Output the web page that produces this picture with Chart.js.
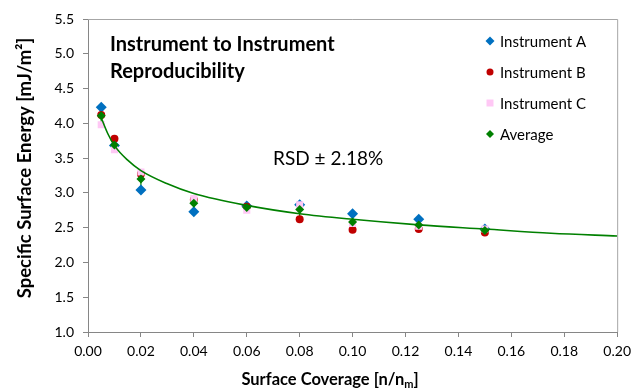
<!DOCTYPE html>
<html>
<head>
<meta charset="utf-8">
<script src="https://cdn.jsdelivr.net/npm/chart.js@4.4.0/dist/chart.umd.min.js"></script>
<style>
    body { margin: 0; background: #fff; }
</style>
</head>
<body>
<canvas id="myChart" width="637" height="390"></canvas>
<script>
// surface coverage [n/nm] where each instrument was measured
const coverage = [0.005, 0.01, 0.02, 0.04, 0.06, 0.08, 0.10, 0.125, 0.15];
const instrumentA = [4.23, 3.68, 3.04, 2.73, 2.81, 2.83, 2.70, 2.62, 2.48];
const instrumentB = [4.12, 3.78, 3.27, 2.90, 2.80, 2.62, 2.47, 2.48, 2.43];
const instrumentC = [3.98, 3.62, 3.30, 2.92, 2.75, 2.83, 2.56, 2.52, 2.48];
const average = [4.11, 3.69, 3.20, 2.85, 2.79, 2.76, 2.58, 2.54, 2.46];
const averageErr = [0.12, 0.08, 0.14, 0.10, 0.03, 0.12, 0.12, 0.07, 0.03];

// power trend line
const trendX = [0.005, 0.0075, 0.01, 0.015, 0.02, 0.03, 0.04, 0.06, 0.08, 0.10, 0.125, 0.15, 0.175, 0.20];
const trendY = [4.08, 3.85, 3.68, 3.47, 3.32, 3.13, 2.99, 2.82, 2.70, 2.62, 2.54, 2.48, 2.42, 2.38];

const xRange = [0, 0.2, 0.02];
const yRange = [1, 5.5, 0.5];

const FONT = 'Lato, "Open Sans", sans-serif';

const toPoints = (xs, ys) => xs.map((x, i) => ({ x: x, y: ys[i] }));

const legendItems = [
    { label: 'Instrument A', style: 'rectRot', color: '#0070C0', r: 4.5 },
    { label: 'Instrument B', style: 'circle', color: '#C00000', r: 3.5 },
    { label: 'Instrument C', style: 'rect', color: '#FFC8F5', r: 3.5 },
    { label: 'Average', style: 'rectRot', color: '#008000', r: 4 },
];

const drawMarker = (ctx, style, x, y, r, color) => {
    ctx.save();
    ctx.fillStyle = color;
    ctx.beginPath();
    if (style === 'circle') {
        ctx.arc(x, y, r, 0, Math.PI * 2);
    } else if (style === 'rect') {
        ctx.rect(x - r, y - r, r * 2, r * 2);
    } else {
        ctx.moveTo(x, y - r);
        ctx.lineTo(x + r, y);
        ctx.lineTo(x, y + r);
        ctx.lineTo(x - r, y);
        ctx.closePath();
    }
    ctx.fill();
    ctx.restore();
};

const decorPlugin = {
    id: 'decor',
    beforeDatasetsDraw(chart) {
        const ctx = chart.ctx;
        const xs = chart.scales.x;
        const ys = chart.scales.y;
        const area = chart.chartArea;

        // plot area box (top and right sides)
        ctx.save();
        ctx.strokeStyle = '#A6A6A6';
        ctx.lineWidth = 1;
        ctx.beginPath();
        ctx.moveTo(area.left, area.top + 0.5);
        ctx.lineTo(area.right + 0.5, area.top + 0.5);
        ctx.lineTo(area.right + 0.5, area.bottom);
        ctx.stroke();

        // error bars on the average
        ctx.strokeStyle = '#008000';
        ctx.lineWidth = 1.2;
        coverage.forEach((c, i) => {
            const px = xs.getPixelForValue(c);
            ctx.beginPath();
            ctx.moveTo(px, ys.getPixelForValue(average[i] + averageErr[i]));
            ctx.lineTo(px, ys.getPixelForValue(average[i] - averageErr[i]));
            ctx.stroke();
        });
        ctx.restore();
    },
    afterDraw(chart) {
        const ctx = chart.ctx;
        ctx.save();
        ctx.fillStyle = '#000';
        ctx.textBaseline = 'alphabetic';

        // title inside plot
        ctx.font = 'bold 20px ' + FONT;
        ctx.textAlign = 'left';
        ctx.fillText('Instrument to Instrument', 110, 51);
        ctx.fillText('Reproducibility', 110, 78);

        ctx.font = '19px ' + FONT;
        ctx.fillText('RSD \u00B1 2.18%', 273, 165);

        // legend
        ctx.font = '15px ' + FONT;
        ctx.textBaseline = 'middle';
        legendItems.forEach((item, i) => {
            const y = 41 + i * 31;
            drawMarker(ctx, item.style, 490, y, item.r, item.color);
            ctx.fillStyle = '#000';
            ctx.fillText(item.label, 500, y + 1);
        });

        // y axis title
        ctx.font = 'bold 18.5px ' + FONT;
        ctx.textAlign = 'center';
        ctx.textBaseline = 'middle';
        ctx.save();
        ctx.translate(25, 168);
        ctx.rotate(-Math.PI / 2);
        ctx.fillText('Specific Surface Energy [mJ/m\u00B2]', 0, 0);
        ctx.restore();

        // x axis title with subscript m
        ctx.textBaseline = 'alphabetic';
        ctx.textAlign = 'left';
        ctx.font = 'bold 16.5px ' + FONT;
        const main = 'Surface Coverage [n/n';
        const mainW = ctx.measureText(main).width;
        ctx.font = 'bold 11px ' + FONT;
        const subW = ctx.measureText('m').width;
        ctx.font = 'bold 16.5px ' + FONT;
        const endW = ctx.measureText(']').width;
        const startX = 330 - (mainW + subW + endW) / 2;
        const baseY = 385;
        ctx.fillText(main, startX, baseY);
        ctx.font = 'bold 11px ' + FONT;
        ctx.fillText('m', startX + mainW, baseY + 3);
        ctx.font = 'bold 16.5px ' + FONT;
        ctx.fillText(']', startX + mainW + subW, baseY);
        ctx.restore();
    },
};

const createChart = () => {
    const ctx = document.getElementById('myChart').getContext('2d');
    const pointSet = (label, values, style, color, radius, order) => ({
        label: label,
        data: toPoints(coverage, values),
        showLine: false,
        pointStyle: style,
        pointRadius: radius,
        pointBackgroundColor: color,
        pointBorderColor: color,
        pointBorderWidth: 0,
        order: order,
    });

    new Chart(ctx, {
        type: 'scatter',
        data: {
            datasets: [
                pointSet('Average', average, 'rectRot', '#008000', 4.5, 1),
                pointSet('Instrument C', instrumentC, 'rect', '#FFC8F5', 5, 2),
                pointSet('Instrument B', instrumentB, 'circle', '#C00000', 4, 3),
                pointSet('Instrument A', instrumentA, 'rectRot', '#0070C0', 5.5, 4),
                {
                    label: 'Power trend',
                    data: toPoints(trendX, trendY),
                    showLine: true,
                    borderColor: '#008000',
                    borderWidth: 1.6,
                    pointRadius: 0,
                    cubicInterpolationMode: 'monotone',
                    order: 0,
                },
            ],
        },
        options: {
            responsive: false,
            animation: false,
            events: [],
            layout: {
                padding: { top: 19, right: 15, left: 0, bottom: 0 },
            },
            plugins: {
                legend: { display: false },
                tooltip: { enabled: false },
            },
            scales: {
                x: {
                    type: 'linear',
                    min: xRange[0],
                    max: xRange[1],
                    afterFit: (scale) => { scale.height = 58; },
                    border: { color: '#868686', width: 1 },
                    grid: {
                        drawOnChartArea: false,
                        drawTicks: true,
                        tickLength: 5,
                        tickColor: '#868686',
                    },
                    ticks: {
                        stepSize: xRange[2],
                        padding: 6,
                        color: '#000',
                        font: { family: FONT, size: 14 },
                        maxRotation: 0,
                        callback: (v) => v.toFixed(2),
                    },
                },
                y: {
                    min: yRange[0],
                    max: yRange[1],
                    afterFit: (scale) => { scale.width = 88; },
                    border: { color: '#868686', width: 1 },
                    grid: {
                        drawOnChartArea: false,
                        drawTicks: true,
                        tickLength: 5,
                        tickColor: '#868686',
                    },
                    ticks: {
                        stepSize: yRange[2],
                        padding: 9,
                        color: '#000',
                        font: { family: FONT, size: 14 },
                        callback: (v) => v.toFixed(1),
                    },
                },
            },
        },
        plugins: [decorPlugin],
    });
};

window.onload = () => {
    createChart();
};
</script>
</body>
</html>
